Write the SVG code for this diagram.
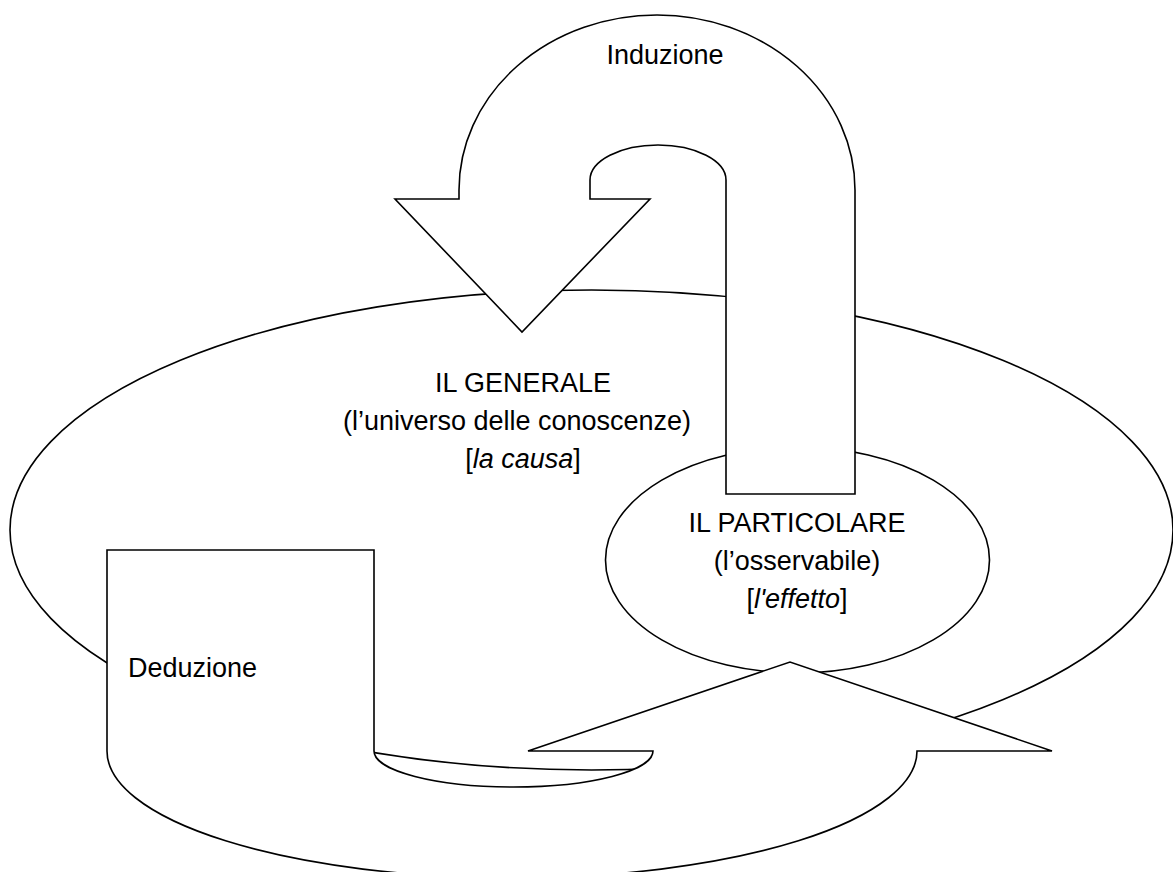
<svg xmlns="http://www.w3.org/2000/svg" width="1173" height="872" viewBox="0 0 1173 872">
<style>
.sh{fill:#fff;stroke:#000;stroke-width:1.6;stroke-linejoin:miter}
.t{font-family:"Liberation Sans",Arial,sans-serif;font-size:27px;fill:#000}
.c{text-anchor:middle}
.i{font-style:italic}
</style>
<rect x="0" y="0" width="1173" height="872" fill="#fff"/>
<g id="generale">
<ellipse class="sh" cx="591.5" cy="530" rx="581.5" ry="240"/>
<text class="t c" x="523" y="392">IL GENERALE</text>
<text class="t c" x="517" y="430">(l’universo delle conoscenze)</text>
<text class="t c" x="523" y="468">[<tspan class="i">la causa</tspan>]</text>
</g>
<g id="particolare">
<ellipse class="sh" cx="797.5" cy="560" rx="192" ry="113"/>
<text class="t c" x="797" y="532">IL PARTICOLARE</text>
<text class="t c" x="797" y="570">(l’osservabile)</text>
<text class="t c" x="797" y="608">[<tspan class="i">l'effetto</tspan>]</text>
</g>
<g id="connectors">
<g id="deduzione">
<path class="sh" d="M107 550 H374 V751 A139.5 36 0 0 0 653 751 H528 L790 662 L1052 751 H917 A405 127 0 0 1 107 751 Z"/>
<text class="t" x="128" y="677">Deduzione</text>
</g>
<g id="induzione">
<path class="sh" d="M726 494 V180 A68 35 0 0 0 590 180 V199 H650 L522 332 L395 199 H459 V190 A198 175 0 0 1 855 190 V494 Z"/>
<text class="t c" x="665" y="64">Induzione</text>
</g>
</g>
</svg>
